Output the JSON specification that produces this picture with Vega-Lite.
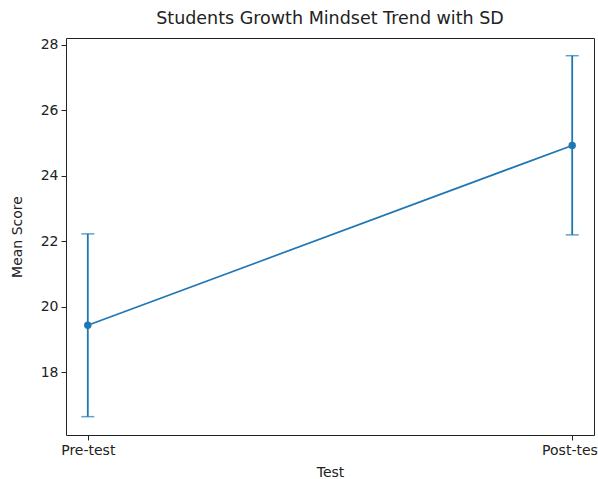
{
  "$schema": "https://vega.github.io/schema/vega-lite/v6.json",
  "width": 528,
  "height": 397,
  "autosize": {"type": "none"},
  "padding": {"left": 66, "top": 38, "right": 4, "bottom": 44},
  "background": "white",
  "config": {
    "font": "DejaVu Sans",
    "view": {"stroke": "#222", "strokeWidth": 1},
    "axis": {
      "grid": false,
      "domain": false,
      "labelFont": "DejaVu Sans",
      "titleFont": "DejaVu Sans",
      "labelFontSize": 14,
      "titleFontSize": 14,
      "titleFontWeight": "normal",
      "labelColor": "#222",
      "titleColor": "#222",
      "tickColor": "#222",
      "tickSize": 5,
      "labelPadding": 3
    }
  },
  "title": {
    "text": "Students Growth Mindset Trend with SD",
    "font": "DejaVu Sans",
    "fontSize": 17.5,
    "fontWeight": "normal",
    "color": "#222",
    "offset": 10
  },
  "data": {
    "values": [
      {"test": "Pre-test", "mean": 19.44, "lower": 16.65, "upper": 22.23},
      {"test": "Post-test", "mean": 24.93, "lower": 22.2, "upper": 27.67}
    ]
  },
  "encoding": {
    "x": {
      "field": "test",
      "type": "nominal",
      "sort": ["Pre-test", "Post-test"],
      "scale": {"type": "point", "padding": 0.045},
      "axis": {"labelAngle": 0, "title": "Test", "titlePadding": 8}
    }
  },
  "layer": [
    {
      "mark": {"type": "rule", "color": "#1f77b4", "strokeWidth": 1.8},
      "encoding": {
        "y": {"field": "lower", "type": "quantitative"},
        "y2": {"field": "upper"}
      }
    },
    {
      "mark": {"type": "tick", "color": "#1f77b4", "size": 13, "thickness": 1.5},
      "encoding": {"y": {"field": "lower", "type": "quantitative"}}
    },
    {
      "mark": {"type": "tick", "color": "#1f77b4", "size": 13, "thickness": 1.5},
      "encoding": {"y": {"field": "upper", "type": "quantitative"}}
    },
    {
      "mark": {"type": "line", "color": "#1f77b4", "strokeWidth": 1.7, "point": {"filled": true, "size": 55, "color": "#1f77b4"}},
      "encoding": {
        "y": {
          "field": "mean",
          "type": "quantitative",
          "scale": {"domain": [16.09, 28.21], "nice": false, "zero": false},
          "axis": {"title": "Mean Score", "values": [18, 20, 22, 24, 26, 28], "titlePadding": 16}
        }
      }
    }
  ]
}
